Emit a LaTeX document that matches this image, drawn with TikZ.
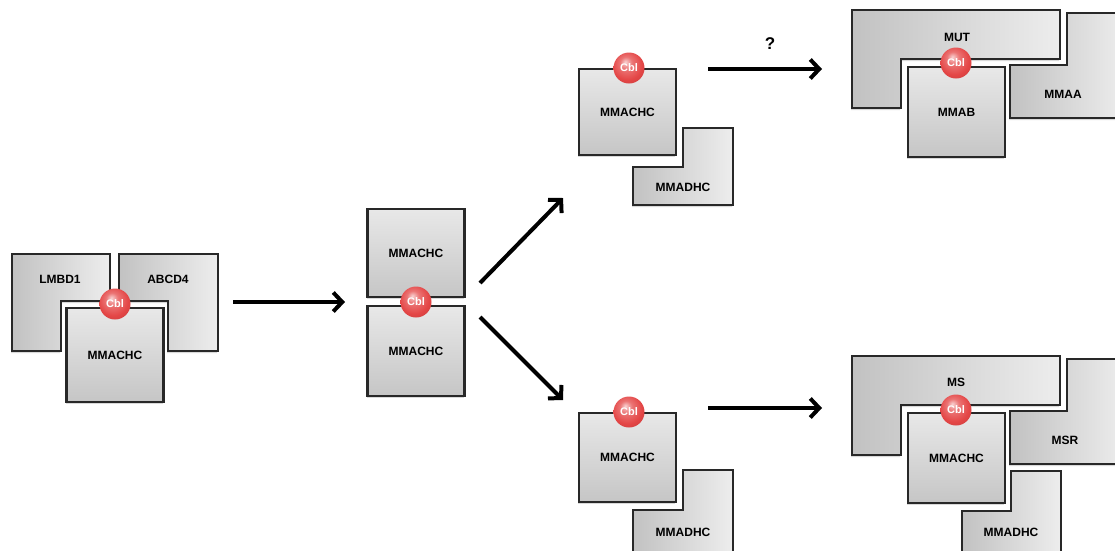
\documentclass[tikz,border=0pt]{standalone}
\usepackage{fontspec}
\setsansfont{Liberation Sans}
\usepackage{tikz}
\usetikzlibrary{arrows, arrows.meta, shadows, positioning}
\definecolor{edgegray}{RGB}{40,40,40}
\definecolor{cblred}{RGB}{228,70,70}
\pgfdeclareradialshading{cblball}{\pgfpoint{-6bp}{10bp}}{color(0bp)=(cblred!25!white); color(10bp)=(cblred!75!white); color(24bp)=(cblred); color(44bp)=(cblred!80!black); color(50bp)=(cblred!65!black)}

\tikzset{
    prot/.style={draw=edgegray,line width=2.4pt,top color=gray!18,bottom color=gray!45,drop shadow={opacity=0.3,shadow xshift=-1pt,shadow yshift=-2pt}},
    lprot/.style={draw=edgegray,line width=2.4pt,left color=gray!48,right color=gray!14,drop shadow={opacity=0.3,shadow xshift=-1pt,shadow yshift=-2pt}},
    protbox/.style={prot,rectangle,minimum width=97pt,minimum height=90pt,inner sep=0pt,font=\sffamily\bfseries\fontsize{12}{14}\selectfont},
    protname/.style={font=\sffamily\bfseries\fontsize{12}{14}\selectfont},
    cbl/.style={circle,shading=cblball,minimum size=31pt,inner sep=0pt,text=white,font=\sffamily\bfseries\fontsize{11}{13}\selectfont},
    flow/.style={->,>={Straight Barb[length=9pt,width=19pt]},line width=4pt}
}

\begin{document}
\begin{tikzpicture}[x=1pt,y=-1pt]
    \useasboundingbox (0,0) rectangle (1115,550);
    \clip (0,0) rectangle (1115,550);

    % LMBD1 + ABCD4
    \path[lprot] (12,254) -- (110,254) -- (110,301) -- (61,301) -- (61,351) -- (12,351) -- cycle;
    \path[lprot] (119,254) -- (218,254) -- (218,351) -- (168,351) -- (168,301) -- (119,301) -- cycle;
    \node[protname] (lmbd) at (60,279) {LMBD1};
    \node[protname] (abcd) at (168,279) {ABCD4};
    \node[protbox,minimum height=94pt] (mmachcA) at (115,355) {MMACHC};
    \node[cbl] (cblA) at (115,304) {Cbl};

    % dimero MMACHC
    \node[protbox,minimum height=88pt] (mmachcB) at (416,253) {MMACHC};
    \node[protbox] (mmachcC) at (416,351) {MMACHC};
    \node[cbl] (cblB) at (416,302) {Cbl};

    % ramo superiore
    \path[lprot] (683,128) -- (733,128) -- (733,205) -- (633,205) -- (633,167) -- (683,167) -- cycle;
    \node[protname] (mmadhcT) at (683,187) {MMADHC};
    \node[protbox,minimum height=86pt] (mmachcT) at (627.5,112) {MMACHC};
    \node[cbl] (cblT) at (629,68) {Cbl};

    % MUT + MMAA + MMAB
    \path[lprot] (852,10) -- (1060,10) -- (1060,59) -- (901,59) -- (901,108) -- (852,108) -- cycle;
    \path[lprot] (1067,13) -- (1125,13) -- (1125,118) -- (1010,118) -- (1010,65) -- (1067,65) -- cycle;
    \node[protname] (mut) at (957,37) {MUT};
    \node[protname] (mmaa) at (1063,94) {MMAA};
    \node[protbox] (mmab) at (956.5,112) {MMAB};
    \node[cbl] (cblMut) at (956,63) {Cbl};

    % ramo inferiore
    \path[lprot] (683,470) -- (733,470) -- (733,560) -- (633,560) -- (633,510) -- (683,510) -- cycle;
    \node[protname] (mmadhcM) at (683,532) {MMADHC};
    \node[protbox,minimum height=89pt] (mmachcM) at (627.5,457.5) {MMACHC};
    \node[cbl] (cblM) at (629,412) {Cbl};

    % MS + MSR + MMADHC + MMACHC
    \path[lprot] (852,356) -- (1060,356) -- (1060,405) -- (901,405) -- (901,455) -- (852,455) -- cycle;
    \path[lprot] (1067,359) -- (1125,359) -- (1125,464) -- (1010,464) -- (1010,411) -- (1067,411) -- cycle;
    \path[lprot] (1011,471) -- (1061,471) -- (1061,560) -- (962,560) -- (962,511) -- (1011,511) -- cycle;
    \node[protname] (ms) at (956,382) {MS};
    \node[protname] (msr) at (1065,440) {MSR};
    \node[protname] (mmadhcR) at (1011,532) {MMADHC};
    \node[protbox] (mmachcR) at (956.5,458) {MMACHC};
    \node[cbl] (cblR) at (956,410) {Cbl};

    % Frecce
    \coordinate (a1s) at (233,302);
    \coordinate (a1e) at (345,302);
    \coordinate (a2s) at (480,283);
    \coordinate (a2e) at (563,198);
    \coordinate (a3s) at (480,317);
    \coordinate (a3e) at (563,400);
    \coordinate (a4s) at (708,69);
    \coordinate (a4e) at (822,69);
    \coordinate (a5s) at (708,408);
    \coordinate (a5e) at (822,408);
    \draw[flow] (a1s) -- (a1e);
    \draw[flow] (a2s) -- (a2e);
    \draw[flow] (a3s) -- (a3e);
    \draw[flow] (a4s) -- (a4e);
    \draw[flow] (a5s) -- (a5e);
    \node[protname,font=\sffamily\bfseries\fontsize{17}{19}\selectfont] (quest) at (770,44) {?};
\end{tikzpicture}
\end{document}
